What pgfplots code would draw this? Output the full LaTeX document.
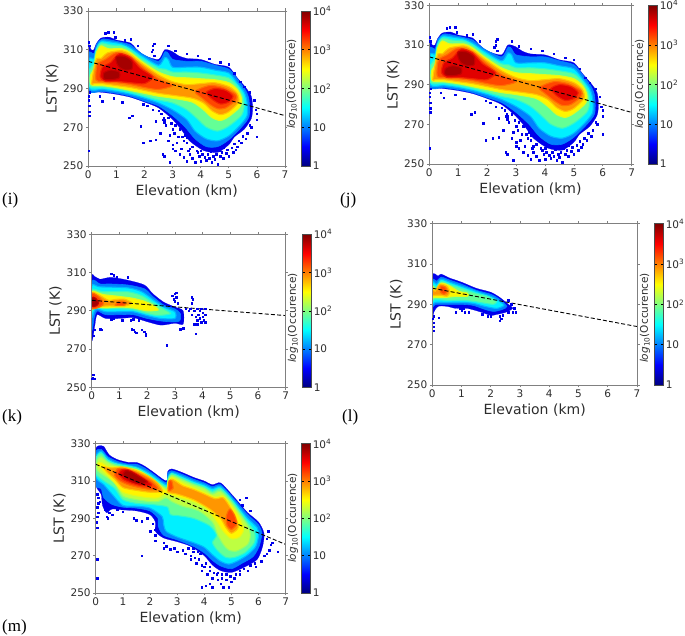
\documentclass[border=0pt]{standalone}
\usepackage{fontspec}
\setmainfont{DejaVu Sans}
\newfontfamily\serifl{Liberation Serif}
\usepackage{pgfplots}
\pgfplotsset{compat=1.18}
\definecolor{cA}{RGB}{0,0,235}
\definecolor{cB}{RGB}{0,128,255}
\definecolor{cC}{RGB}{0,240,255}
\definecolor{cD}{RGB}{100,255,150}
\definecolor{cE}{RGB}{190,255,65}
\definecolor{cF}{RGB}{255,245,0}
\definecolor{cG}{RGB}{255,150,0}
\definecolor{cH}{RGB}{255,70,0}
\definecolor{cI}{RGB}{225,0,0}
\definecolor{cJ}{RGB}{165,0,0}
\definecolor{txt}{RGB}{45,45,45}
\pgfplotsset{
 lev/.style 2 args={forget plot,smooth cycle,tension=0.45,fill=#1,draw=#2,line width=1.1pt},
 lA/.style={lev={cA}{cA},line width=0.2pt},
 lB/.style={lev={cB}{cB},line width=0.6pt},
 lC/.style={lev={cC}{cB!50!cC}},
 lD/.style={lev={cD}{cC!50!cD}},
 lE/.style={lev={cE}{cD!50!cE}},
 lF/.style={lev={cF}{cE!50!cF}},
 lG/.style={lev={cG}{cF!50!cG}},
 lH/.style={lev={cH}{cG!50!cH}},
 lI/.style={lev={cI}{cH!50!cI}},
 lJ/.style={lev={cJ}{cI!50!cJ}},
 speck/.style={forget plot,only marks,mark=square*,mark size=0.75pt,color=cA,mark options={draw=none,fill=cA}},
 fit/.style={forget plot,black,dashed,line width=0.9pt,dash pattern=on 4pt off 2.2pt},
 panel/.style={
  scale only axis,anchor=south west,axis on top,
  xmin=0,xmax=7,ymin=250,ymax=330,
  xtick={0,1,2,3,4,5,6,7},ytick={250,270,290,310,330},
  xlabel={Elevation (km)},ylabel={LST (K)},
  tick align=outside,
  tick style={gray,line width=0.6pt},major tick length=2.5pt,
  axis line style={gray,line width=0.9pt},
  tick label style={font=\fontsize{10.5}{12}\selectfont,text=txt},
  label style={font=\fontsize{14}{16}\selectfont,text=txt},
  /pgf/number format/assume math mode=true,
  /pgf/number format/1000 sep={},
  xticklabel style={yshift=1.5pt},
  yticklabel style={xshift=1pt},
  xlabel style={yshift=0.5pt},
  ylabel style={yshift=-2pt},
  colormap/jet,colorbar,point meta min=0,point meta max=4,
 },
 cb/.style={colorbar style={
   at={(parent axis.north east)},xshift=#1,anchor=north west,width=9pt,
   ytick={0,1,2,3,4},
   yticklabels={1,10,10\textsuperscript{2},10\textsuperscript{3},10\textsuperscript{4}},
   yticklabel pos=right,
   tick style={black,line width=0.5pt},major tick length=2.5pt,
   axis line style={gray!60!black,line width=0.5pt},
   tick label style={font=\fontsize{10.5}{12}\selectfont,text=txt},
   xticklabel style={yshift=0pt},yticklabel style={xshift=-1pt},
   /pgf/number format/assume math mode=false,
 }},
}
\newcommand{\cblabel}{\fontsize{10.5}{12}\selectfont\color{txt}\textit{log}\textsubscript{10}(Occurence)}
\newcommand{\bigI}{%
\addplot[lA] coordinates {(0,312)(0.1,310)(0.2,310)(0.28,313)(0.45,316)(0.75,316.5)(1.0,315)(1.5,313.5)(1.7,310.5)(2.0,307)(2.5,305)(2.72,310)(3.0,309)(3.2,307)(3.5,305.5)(4,305)(4.5,302.5)(5,301)(5.3,295.5)(5.6,290.5)(5.8,286)(5.85,280)(5.8,274.5)(5.55,269)(5.2,265)(5.0,261)(4.6,257)(4.1,258)(3.6,263)(3.35,268)(3.0,274)(2.5,280)(2,283)(1.5,285.5)(1.0,287)(0.5,288)(0.1,288.5)(0,288.5)};
\addplot[lB] coordinates {(0,308)(0.2,308)(0.3,313)(0.5,315.5)(0.8,315)(1.2,313.7)(1.5,312.5)(1.9,308)(2.5,304)(2.73,309)(2.85,308)(3.0,305)(3.5,304)(4,304)(4.5,302)(5,300)(5.3,295)(5.6,289)(5.72,284)(5.72,275.5)(5.45,270)(5,263.5)(4.6,260)(4.2,260)(3.8,264)(3.45,270)(3,276)(2.5,281)(2,283.5)(1.5,286)(1,287.5)(.5,288.5)(0,289)};
\addplot[lC] coordinates {(0.03,305)(0.2,305.5)(0.3,311)(0.45,314.5)(0.8,314)(1.2,313)(1.5,311)(1.9,307)(2.5,302)(2.72,306)(2.85,305)(3.0,301)(3.5,301)(4,301)(4.5,299.5)(5,298)(5.3,293)(5.55,288)(5.65,283)(5.65,276)(5.4,271)(5,265.5)(4.6,263)(4.2,264)(3.8,268)(3.5,274)(3,279)(2.5,282.5)(2,285)(1.5,287)(1,288.5)(.5,289.5)(0.03,290)};
\addplot[lD] coordinates {(0.05,300)(0.2,303)(0.28,310)(0.45,313.5)(0.8,312.5)(1.2,312)(1.5,310)(1.9,305.5)(2.5,300.5)(2.75,300)(3.0,298.5)(3.5,298.5)(4,298)(4.5,297)(5,295.5)(5.3,291.5)(5.5,286.5)(5.55,281)(5.45,276)(5,270.5)(4.6,268)(4.2,270)(3.9,274)(3.5,279)(3,282.5)(2.5,284)(2,286)(1.5,288)(1,289.5)(.5,290.5)(0.05,291)};
\addplot[lF] coordinates {(0.08,297)(0.2,300)(0.28,308)(0.45,312)(0.7,310.5)(1.2,310.5)(1.5,308.5)(1.9,304)(2.5,298.5)(3,296)(3.5,295.5)(4,295)(4.5,294.5)(5,293)(5.3,289.5)(5.45,285)(5.4,280.5)(5,275.5)(4.7,273.5)(4.4,275)(4.1,279)(3.7,283)(3,285)(2.5,286)(2,287.5)(1.5,289)(1,290.5)(.5,291.5)(0.1,292)};
\addplot[lG] coordinates {(0.12,292.5)(0.2,300)(0.3,305.5)(0.45,305.5)(0.7,308.5)(1.2,309.5)(1.5,307.5)(1.9,303)(2.5,297)(3,293.5)(3.5,292)(4,292.5)(4.5,293)(5,291)(5.3,287.5)(5.35,283)(5,278)(4.7,276.5)(4.4,278.5)(4.1,282.5)(3.7,285)(3,286.5)(2.5,287.5)(2,289)(1.5,290.5)(1,291.5)(.5,292.5)(0.2,292.5)};
\addplot[lH] coordinates {(0.27,294.5)(0.32,302.5)(0.6,305)(1.0,308.5)(1.5,306.5)(1.9,301.5)(2.5,295)(3.0,291.5)(2.5,289.5)(2,290.5)(1.5,292)(1,293)(.5,293.5)};
\addplot[lH] coordinates {(3.8,288.5)(4.3,291.5)(4.8,290.5)(5.25,287)(5.25,284)(4.9,280)(4.6,279.5)(4.35,281.5)(4.05,285)};
\addplot[lI] coordinates {(0.42,296)(0.5,301)(0.8,303.5)(1.1,308)(1.5,306)(1.85,300.5)(2.3,296)(2,292.5)(1.5,293)(1,293.7)(.6,293.7)};
\addplot[lI] coordinates {(4.2,288)(4.5,290)(4.9,289)(5.15,286)(5,283)(4.7,282)(4.4,284.5)};
\addplot[lJ] coordinates {(0.55,295)(0.55,298)(0.8,299.5)(1.1,298.5)(1.1,295.5)(0.8,294.5)};
\addplot[lJ] coordinates {(1.0,303.5)(1.0,306.5)(1.3,306.5)(1.55,304)(1.55,300)(1.3,299.5)(1.1,301)};
\addplot[speck] coordinates {(0.02,258)(0.03,276)(0.03,278)(0.03,281)(0.02,284)(0.02,286)(0.05,288)(0.4,286)(0.5,283.5)(0.9,285)(1.2,283)(1.45,275)(1.57,276)(1.87,270.5)(1.95,262)(2.2,263)(2.4,263.5)(1.95,282)(2.1,281)(2.3,279)(2.5,278.5)(2.6,277)(2.68,275)(2.7,274)(2.7,272.5)(2.65,274)(2.75,271)(2.4,273)(2.85,275)(2.55,267)(2.65,256)(2.7,255)(2.9,252)(2.85,263)(2.9,266)(3.0,269)(3.05,267)(3.0,261)(3.0,259)(3.1,258)(3.15,262)(3.2,265)(3.3,259)(3.25,256)(3.4,254.5)(3.5,252.5)(3.6,256)(3.4,263)(3.5,262)(3.55,258)(3.7,254)(3.8,252)(3.9,257)(4.0,252.5)(4.2,253)(4.4,252)(4.6,251)(4.8,254)(5.0,255)(5.15,257)(5.3,260)(5.45,262)(5.6,264)(5.8,270)(6.0,265)(6.0,274)(6.0,277)(5.95,279)(5.9,284)(5.75,288)(5.55,291)(5.4,293.5)(5.2,298)(5.0,302.5)(4.7,303.5)(4.3,305.5)(3.9,307)(3.5,308)(3.1,309.5)(2.85,312)(2.3,312)(2.3,310)(2.25,309)(2.35,307)(2.35,313)(1.75,312)(1.5,315.5)(1.3,315)(0.9,319)(.95,316.5)(.7,319)(.6,318.5)(0.02,314)(0.03,312)
(3.7,260)(3.85,258)(3.95,255)(4.05,256)(4.15,254.5)(4.25,256)(4.3,254)(4.45,255)(4.5,253.5)(4.55,256)(4.7,255)(4.75,257)(4.9,256.5)(4.95,258.5)(5.1,259.5)(5.2,261.5)(5.35,263)(5.5,265.5)(5.65,267)(5.75,271)(3.35,265)(3.45,266)(3.25,269)(3.1,271)(2.95,272)(4.0,258)(4.35,257.5)(4.65,258)(3.6,259)(3.5,264.5)(4.8,259.5)(5.25,258.5)};
\addplot[fit] coordinates {(0,304)(7,276)};
}
\begin{document}
\begin{tikzpicture}[x=1pt,y=1pt]
\path[use as bounding box,fill=white] (0,0) rectangle (685,636);
% (i)
\begin{axis}[panel,cb=7.7pt,at={(88.3pt,470pt)},width=196.7pt,height=155pt]
\bigI
\end{axis}
% (j)
\begin{axis}[panel,cb=8pt,at={(429.3pt,472pt)},width=202.4pt,height=158.7pt]
\bigI
\end{axis}
% (k)
\begin{axis}[panel,cb=8pt,at={(91.7pt,248.7pt)},width=194pt,height=153pt]
\addplot[lA] coordinates {(0,307)(0.1,308)(0.3,306.5)(0.7,307.5)(1.3,306)(1.9,303.5)(2.2,299)(2.6,294.5)(3.0,292)(3.3,290)(3.3,283)(3.0,283.5)(2.5,282.5)(2,284.3)(1.5,286.4)(1,286)(.5,286)(0.2,288)(0.12,283)(0.05,276.5)(0,276)};
\addplot[lB] coordinates {(0,305)(0.3,304)(0.7,304)(1.3,303.5)(1.9,301.5)(2.2,297.5)(2.6,293)(3,291)(3.2,288.5)(3.15,284.5)(2.6,284.5)(2,286)(1.5,288)(1,288)(.5,288)(.2,290)(0.1,287)(0,280)};
\addplot[lC] coordinates {(0,303)(0.3,302.5)(1.3,302)(1.8,300)(2.2,296)(2.6,292)(3,289.5)(3,286)(2.5,286)(2,287.5)(1.5,289.5)(1,289.5)(.5,289.5)(0.2,291)(0.1,290)(0,287)};
\addplot[lD] coordinates {(0,301)(.4,300)(1.3,300)(1.8,298)(2.2,294.5)(2.6,291)(2.85,288.5)(2.4,287.5)(2,288.5)(1.5,290.5)(1,291)(.5,291)(0.1,291.5)(0,290)};
\addplot[lF] coordinates {(0,300)(.4,298.5)(1,297.5)(1.5,296.5)(1.9,295)(2.2,293)(2.4,290.5)(2.0,290)(1.5,291.5)(1,292)(.5,291.5)(.1,292)(0,291)};
\addplot[lG] coordinates {(0,299.5)(.3,298)(.6,295.5)(.9,296)(1.2,296)(1.45,294)(1.2,292.5)(.8,292.5)(.5,292.5)(.1,291.5)(0,291.5)};
\addplot[lH] coordinates {(0,299)(.2,298)(.4,295)(.4,293)(.2,291.5)(0,291.5)};
\addplot[lH] coordinates {(0.85,293)(1,295)(1.2,294.5)(1.2,293)(1,292.8)};
\addplot[lJ] coordinates {(0,297)(.15,296.5)(.25,294)(.15,292.5)(0,292.5)};
\addplot[speck] coordinates {(0.03,255)(0.05,256.5)(0.1,254.5)(0.02,254.5)(0.3,280.5)(0.35,280)(0.05,277)(0.1,280)(1.5,280)(1.55,279)(1.6,278.5)(1.45,280.5)(1.9,279)(1.95,278)(1.95,277)(1.8,280)(2.7,272)(1.4,285)(1.5,285.5)(1.7,285)(1.1,285)(0.7,285.5)(0.8,286)(2.9,298)(3,299)(3.05,299.5)(3.05,297)(2.95,296)(3,295)(3.1,294)(3.6,297)(3.65,296)(3.6,294)(3.4,291)(3.5,290)(3.6,288)(3.55,291)(3.75,278)(3.7,290)(3.75,287)(3.8,285)(3.8,291)(3.85,288)(3.9,286)(3.9,290)(3.95,291)(4,289)(4,287)(4.05,285)(4.1,291)(4.1,288)(3.7,283)(3.8,283)(3.95,284)(4.1,284)(3.3,281)(3.2,280.5)(0.7,309.5)(0.8,308.5)(0.9,307.5)(1.3,307.5)};
\addplot[fit] coordinates {(0,295.5)(7,287.5)};
\end{axis}
% (l)
\begin{axis}[panel,cb=8.7pt,at={(432.3pt,251pt)},width=204.7pt,height=161.3pt]
\addplot[lA] coordinates {(0,304)(0.2,304)(0.3,305)(0.6,303)(1,301)(1.5,298)(2,296)(2.3,293.5)(2.6,290)(2.75,288)(2.5,286)(2.2,285)(2,284.5)(1.7,286)(1.2,288)(.8,288)(.5,289)(.2,289)(.05,286)(0,280)};
\addplot[lB] coordinates {(0,302)(.15,301.5)(.3,303.5)(.6,302)(1,300)(1.5,297)(2,295)(2.3,292.5)(2.55,289)(2.4,287.5)(2.1,286.5)(1.8,287.5)(1.4,289.5)(1,290)(.5,290)(.1,290)(0,289)};
\addplot[lC] coordinates {(0,301)(.15,300)(.3,302.5)(.6,301)(1,299)(1.5,296.5)(2,294)(2.3,291.5)(2.45,289.5)(2.2,288)(1.8,289)(1.4,290.5)(1,291)(.5,291)(.1,291)(0,290.5)};
\addplot[lD] coordinates {(0,299.5)(.15,298.5)(.3,301.5)(.6,300)(1,298)(1.5,295.5)(1.9,294)(2.2,291.5)(2.1,290)(1.8,290.5)(1.4,291.5)(1,292)(.5,292)(.1,292.5)(0,292)};
\addplot[lF] coordinates {(0,299)(.12,297)(.3,300.5)(.55,299.5)(.9,296.5)(1.2,295.5)(1.2,294)(.8,294)(.5,293.5)(.1,293.5)(0,293.5)};
\addplot[lG] coordinates {(0,298)(.1,296.5)(.25,300)(.5,299)(.6,296)(.5,294)(.3,294.5)(.1,294.5)(0,294.5)};
\addplot[lH] coordinates {(.28,299)(.45,298.5)(.5,296)(.4,295)(.28,296)};
\addplot[speck] coordinates {(0.05,284)(0.05,281)(0.02,283)(.05,277)(.05,279)(.22,283.5)(.8,286)(1.1,286)(1.25,286)(1.0,287)(.95,288)(1.05,288)(1.7,285)(1.9,284)(2.0,284)(2.3,284)(2.35,283)(2.3,282)(2.4,284.5)(2.6,286)(2.75,286)(2.85,286)(2.65,288)(2.8,288)(2.7,290)(2.6,292)};
\addplot[fit] coordinates {(0,298)(7,279)};
\end{axis}
% (m)
\begin{axis}[panel,cb=7pt,at={(95.7pt,43pt)},width=190pt,height=149.3pt]
\addplot[lA] coordinates {(0,327)(0.2,329)(.3,328.5)(.5,324)(.8,321.5)(1.2,320)(1.5,320)(1.8,318)(2.1,315)(2.6,310)(2.65,315)(2.8,316.5)(3.2,314.5)(3.6,312)(4,310)(4.3,308)(4.6,309)(5,303)(5.3,298)(5.6,293)(6,288)(6.2,282)(6.15,275)(5.95,268)(5.5,264)(5,261)(4.6,262)(4.3,265)(4,270)(3.5,275)(3,277.5)(2.5,279.5)(2.2,283)(2.2,288)(2.0,292)(1.5,294)(1,294.5)(.6,295)(.4,293)(.25,297)(.2,303)(.05,306)(0,310)};
\addplot[lB] coordinates {(0,325)(.2,327)(.45,323)(.8,320.5)(1.2,319)(1.5,319)(1.8,317)(2.1,314)(2.6,309)(2.65,314)(2.8,315.5)(3.2,313.5)(3.6,311)(4,309)(4.3,307)(4.6,308)(5,302)(5.3,297)(5.6,292)(6,286.5)(6.12,282)(6.02,275)(5.8,269.5)(5.4,266)(5,263)(4.6,264.5)(4.3,267.5)(4.0,271.5)(3.6,275)(3,278.5)(2.5,281)(2.3,286)(2.3,290)(2,294)(1.5,295.5)(1,296)(.6,297.5)(.3,301)(.2,306)(0,308)};
\addplot[lC] coordinates {(0,323)(.2,326)(.45,322)(.8,319.5)(1.5,317.5)(2,314)(2.6,308)(2.66,312)(2.8,314.5)(3.2,312.5)(3.6,310)(4,308)(4.3,306)(4.6,307)(5,301)(5.3,295.5)(5.6,290)(5.95,285)(6.0,281)(5.9,275)(5.6,270.5)(5.2,267)(4.9,265.5)(4.6,267)(4.3,270.5)(4.0,274.5)(3.6,277)(3,280)(2.6,283)(2.5,287)(2.45,291)(2,295.5)(1.5,296.5)(1,297)(.6,303)(.3,308)(0,312)};
\addplot[lD] coordinates {(0,322)(.2,325)(.45,321)(.8,319)(1.5,317)(2,313)(2.6,307)(2.66,311)(2.8,314)(3.2,311.5)(3.6,309)(4,307)(4.3,304.5)(4.6,306)(5,300)(5.3,294)(5.6,288)(5.85,283)(5.85,277)(5.5,271.5)(5.1,269)(4.8,269)(4.5,272.5)(4.3,277)(4.45,281)(4.2,286)(3.6,290)(3,291.5)(2.75,292)(2.65,296)(2.3,297)(2,297.5)(1.5,298)(1,300)(.7,306)(.3,310)(0,314)};
\addplot[lE] coordinates {(0.05,321)(.2,323)(.45,320)(.8,318)(1.5,316)(2,312)(2.6,306)(2.66,310)(2.8,313)(3.2,310.5)(3.6,308)(4,306)(4.3,303)(4.6,304.5)(5,298.5)(5.3,292.5)(5.6,286)(5.7,281)(5.6,276)(5.2,272.5)(4.9,273)(4.7,276)(4.5,281)(4.3,288)(3.8,294)(3.2,296.5)(2.8,299)(2.6,301)(2.3,299)(2,299)(1.5,300)(1,302)(.7,309)(.3,313)(.05,316)};
\addplot[lF] coordinates {(0.05,319)(.2,320)(.45,318)(.8,317.5)(1.5,316)(2,312)(2.6,305)(2.66,309)(2.8,312)(3.2,309)(3.6,306.5)(4,304)(4.4,301.5)(4.7,302)(5,297)(5.3,290.5)(5.45,284)(5.3,280)(5,279)(4.7,283)(4.4,289.5)(4,296)(3.5,299.5)(3,301.5)(2.7,303)(2.6,303.5)(2.3,301)(2,301)(1.5,302)(1,304)(.7,309)(.3,315)};
\addplot[lG] coordinates {(.3,317.5)(.6,317)(1,317.5)(1.5,315.5)(2,312)(2.3,308.5)(2.45,304.5)(2,304)(1.5,305)(1,306.5)(.7,311)(.4,315)};
\addplot[lG] coordinates {(2.66,304)(2.66,307)(2.8,311)(3.2,307.5)(3.6,305.5)(4,303)(4.4,300.5)(4.7,301)(4.95,296)(5.15,291)(5.25,285)(5,282)(4.8,285)(4.6,290)(4.2,295)(3.6,300)(3,303)};
\addplot[lH] coordinates {(.7,313)(.8,316.5)(1.1,316.5)(1.5,314.5)(2,310.5)(2.3,306)(2,305.5)(1.6,306.5)(1.2,308)(.9,310)};
\addplot[lH] coordinates {(2.68,305)(2.7,310)(2.8,310)(2.85,306)};
\addplot[lH] coordinates {(4.8,290)(4.85,293)(4.95,295)(5.1,292)(5.2,287)(5,284)(4.85,286)};
\addplot[lI] coordinates {(.85,314)(.95,316)(1.2,316)(1.6,313)(2,309)(2.05,307.5)(1.7,307.5)(1.3,309)(1,311)};
\addplot[lJ] coordinates {(1,313.5)(1.1,315.5)(1.3,315)(1.65,312)(1.9,309.5)(1.6,308.5)(1.3,310)(1.1,312)};
\addplot[speck] coordinates {(0.05,258)(0.05,268)(1.7,270)(0.05,285)(0.03,288)(0.05,291)(0.1,293)(0.05,296)(0.1,298)(.15,299)(.1,301)(.05,303)(.3,300)(.35,295)(.4,291)(.45,290)(.5,293)(.55,296)(.6,292)(.65,296)(.8,295)(1.0,293.5)(1.4,290)(1.5,289)(1.7,288.5)(1.9,290)(2.1,287)(2.2,284)(2.2,281)(2.0,283)(2.2,278)(2.5,277)(2.6,275)(2.75,273.5)(2.5,274)(2.9,274)(3,272)(3.2,273)(3.3,271)(3.4,274)(3.5,270)(3.5,268)(3.6,272)(3.65,269)(3.7,266)(3.85,271)(3.9,265)(3.9,262)(4,264)(4.1,260)(4.2,262)(4.3,258)(4.45,260)(4.5,257)(4.6,255)(4.65,258)(4.8,257)(4.9,253)(4.7,253)(4.3,253)(4.2,255)(3.9,253)(4.05,254)(5,256)(5.1,258)(5.3,260)(5.6,262)(5.9,264)(6.1,267)(6.2,270)(6.4,273)(6.5,277)(6.3,279)(6.35,283)(6.45,276)(6.7,272)(6.3,271)(5.55,301)(5.4,297)(5.3,300)(5.7,294)
(4.35,261)(4.5,261)(4.65,260)(4.8,260)(4.95,259)(5.15,260)(5.3,262)(5.45,263)(5.7,265)(5.85,266)(4.2,264)(4.05,266)(3.8,268)(3.75,272)(3.6,274)};
\addplot[fit] coordinates {(0,319)(7,276)};
\end{axis}
% colourbar titles
\node[rotate=90] at (292,552) {\cblabel};
\node[rotate=90] at (640,552) {\cblabel};
\node[rotate=90] at (293,318) {\cblabel};
\node[rotate=90] at (645,318) {\cblabel};
\node[rotate=90] at (293,118) {\cblabel};
% panel letters
\node[anchor=west,inner sep=0pt,font=\serifl\fontsize{17}{20}\selectfont] at (2,436) {(i)};
\node[anchor=west,inner sep=0pt,font=\serifl\fontsize{17}{20}\selectfont] at (340,436) {(j)};
\node[anchor=west,inner sep=0pt,font=\serifl\fontsize{17}{20}\selectfont] at (2,219) {(k)};
\node[anchor=west,inner sep=0pt,font=\serifl\fontsize{17}{20}\selectfont] at (342,219) {(l)};
\node[anchor=west,inner sep=0pt,font=\serifl\fontsize{17}{20}\selectfont] at (2,9) {(m)};
\end{tikzpicture}
\end{document}
